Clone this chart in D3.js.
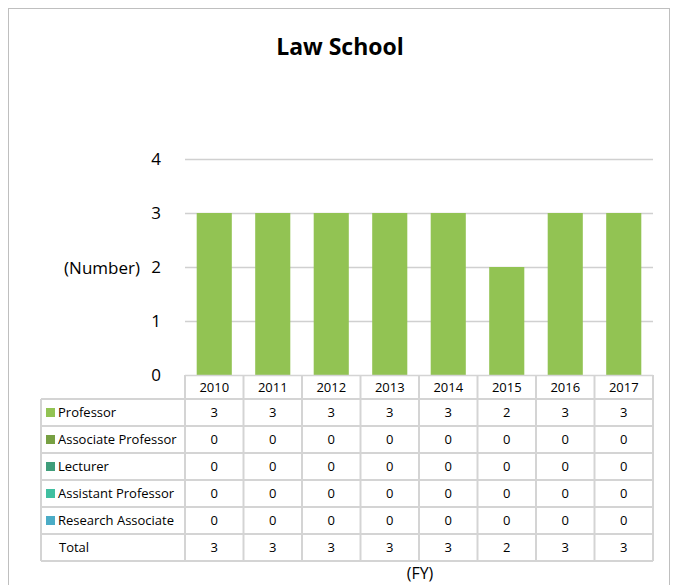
<!DOCTYPE html>
<html>
<head>
<meta charset="utf-8">
<script src="https://cdn.jsdelivr.net/npm/d3@7"></script>
<style>
  body { margin: 0; background: #fff; }
  text { font-family: "Open Sans", "Noto Sans", sans-serif; fill: #000; }
</style>
</head>
<body>
<div id="chart"></div>
<script>
// Chart data
const years = ["2010", "2011", "2012", "2013", "2014", "2015", "2016", "2017"];
const seriesNames = ["Professor", "Associate Professor", "Lecturer", "Assistant Professor", "Research Associate"];
const professor = [3, 3, 3, 3, 3, 2, 3, 3];
const associateProfessor = [0, 0, 0, 0, 0, 0, 0, 0];
const lecturer = [0, 0, 0, 0, 0, 0, 0, 0];
const assistantProfessor = [0, 0, 0, 0, 0, 0, 0, 0];
const researchAssociate = [0, 0, 0, 0, 0, 0, 0, 0];
const yTicks = [0, 1, 2, 3, 4];

const seriesValues = [professor, associateProfessor, lecturer, assistantProfessor, researchAssociate];
const colors = ["#92c353", "#77a043", "#3f9d7a", "#40bfa0", "#4bacc6"];
const totals = years.map((y, i) => d3.sum(seriesValues, s => s[i]));

const W = 675, H = 585;
const plot = { left: 185, right: 653, top: 159, bottom: 375 };
const labelLeft = 41;
const headerH = 24, rowH = 27;

const svg = d3.select("#chart")
  .append("svg")
  .attr("width", W)
  .attr("height", H);

// Outer chart border
svg.append("rect")
  .attr("x", 8.5).attr("y", 8.5)
  .attr("width", 661).attr("height", 600)
  .attr("fill", "none")
  .attr("stroke", "#bfbfbf")
  .attr("stroke-width", 1);

// Title
svg.append("text")
  .attr("x", 340).attr("y", 55)
  .attr("text-anchor", "middle")
  .style("font-size", "23px")
  .style("font-weight", "bold")
  .text("Law School");

// Scales
const x = d3.scaleBand()
  .domain(years)
  .range([plot.left, plot.right])
  .paddingInner(0.4)
  .paddingOuter(0.2);

const xCell = d3.scaleBand()
  .domain(years)
  .range([plot.left, plot.right]);

const y = d3.scaleLinear()
  .domain([0, 4])
  .range([plot.bottom, plot.top]);

// Gridlines
svg.append("g")
  .selectAll("line")
  .data(yTicks.filter(d => d > 0))
  .join("line")
  .attr("x1", plot.left).attr("x2", plot.right)
  .attr("y1", d => Math.round(y(d)) + 0.5)
  .attr("y2", d => Math.round(y(d)) + 0.5)
  .attr("stroke", "#d0d0d0")
  .attr("stroke-width", 1.5);

// Y axis labels
const yAxis = svg.append("g")
  .attr("transform", `translate(${plot.left - 24},0)`)
  .call(d3.axisLeft(y).tickValues(yTicks).tickSize(0).tickPadding(0).tickFormat(d3.format("d")));
yAxis.select(".domain").remove();
yAxis.selectAll("text")
  .style("font-size", "17px")
  .style("font-family", "'Open Sans', 'Noto Sans', sans-serif")
  .attr("dy", "0.35em");

svg.append("text")
  .attr("x", 140).attr("y", 268)
  .attr("text-anchor", "end")
  .attr("dy", "0.35em")
  .style("font-size", "17px")
  .text("(Number)");

// Bars (stacked)
const stackData = years.map((yr, i) => {
  const row = { year: yr };
  seriesNames.forEach((n, k) => row[n] = seriesValues[k][i]);
  return row;
});
const stacked = d3.stack().keys(seriesNames)(stackData);

svg.append("g")
  .selectAll("g")
  .data(stacked)
  .join("g")
  .attr("fill", (d, i) => colors[i])
  .selectAll("rect")
  .data(d => d)
  .join("rect")
  .attr("x", d => x(d.data.year))
  .attr("width", x.bandwidth())
  .attr("y", d => y(d[1]))
  .attr("height", d => y(d[0]) - y(d[1]));

// Data table
const table = svg.append("g");
const tableTop = plot.bottom;
const rowsTop = tableTop + headerH;
const nRows = seriesNames.length + 1;
const tableBottom = rowsTop + nRows * rowH;
const gridColor = "#d4d4d4";

table.append("line")
  .attr("x1", plot.left).attr("x2", plot.right)
  .attr("y1", tableTop + 0.5).attr("y2", tableTop + 0.5)
  .attr("stroke", gridColor).attr("stroke-width", 1.5);

const colEdges = years.map(yr => xCell(yr)).concat([plot.right]);
table.selectAll(".vline")
  .data(colEdges)
  .join("line")
  .attr("x1", d => d).attr("x2", d => d)
  .attr("y1", tableTop).attr("y2", tableBottom)
  .attr("stroke", gridColor).attr("stroke-width", 2);

table.append("line")
  .attr("x1", labelLeft).attr("x2", labelLeft)
  .attr("y1", rowsTop).attr("y2", tableBottom)
  .attr("stroke", gridColor).attr("stroke-width", 2);

d3.range(nRows + 1).forEach(r => {
  table.append("line")
    .attr("x1", labelLeft).attr("x2", plot.right)
    .attr("y1", rowsTop + r * rowH).attr("y2", rowsTop + r * rowH)
    .attr("stroke", gridColor).attr("stroke-width", 2);
});

// header labels
table.selectAll(".yr")
  .data(years)
  .join("text")
  .attr("x", d => xCell(d) + xCell.bandwidth() / 2)
  .attr("y", tableTop + headerH / 2)
  .attr("dy", "0.35em")
  .attr("text-anchor", "middle")
  .style("font-size", "13px")
  .text(d => d);

// row labels + legend keys
const rowLabels = seriesNames.concat(["Total"]);
rowLabels.forEach((name, r) => {
  const cy = rowsTop + r * rowH + rowH / 2;
  if (r < seriesNames.length) {
    table.append("rect")
      .attr("x", 46).attr("y", cy - 4.5)
      .attr("width", 9).attr("height", 9)
      .attr("fill", colors[r]);
  }
  table.append("text")
    .attr("x", r < seriesNames.length ? 58 : 59)
    .attr("y", cy)
    .attr("dy", "0.35em")
    .style("font-size", "13px")
    .text(name);

  const vals = r < seriesNames.length ? seriesValues[r] : totals;
  years.forEach((yr, i) => {
    table.append("text")
      .attr("x", xCell(yr) + xCell.bandwidth() / 2)
      .attr("y", cy)
      .attr("dy", "0.35em")
      .attr("text-anchor", "middle")
      .style("font-size", "13px")
      .text(vals[i]);
  });
});

// x axis title
svg.append("text")
  .attr("x", 420).attr("y", 573)
  .attr("text-anchor", "middle")
  .attr("dy", "0.35em")
  .style("font-size", "16px")
  .text("(FY)");
</script>
</body>
</html>
